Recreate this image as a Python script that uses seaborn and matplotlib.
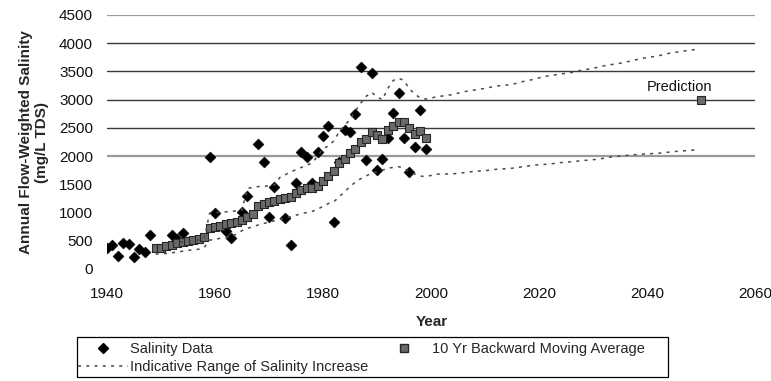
import matplotlib
matplotlib.use("Agg")
import matplotlib.pyplot as plt
import seaborn as sns
import pandas as pd
from matplotlib.lines import Line2D
from matplotlib.patches import Rectangle

# ---------------- data ----------------
data_years = [1940, 1941, 1942, 1943, 1944, 1945, 1946, 1947, 1948, 1952, 1953, 1954,
              1959, 1960, 1962, 1963, 1965, 1966, 1968, 1969, 1970, 1971, 1973, 1974,
              1975, 1976, 1977, 1978, 1979, 1980, 1981, 1982, 1983, 1984, 1985, 1986,
              1987, 1988, 1989, 1990, 1991, 1992, 1993, 1994, 1995, 1996, 1997, 1998, 1999]
data_vals = [375, 430, 225, 460, 445, 220, 350, 295, 610, 600, 540, 640,
             1980, 990, 680, 555, 1005, 1290, 2210, 1890, 920, 1450, 900, 425,
             1525, 2070, 1990, 1530, 2080, 2360, 2530, 830, 1900, 2460, 2430, 2740,
             3580, 1930, 3470, 1760, 1950, 2315, 2770, 3110, 2315, 1725, 2165, 2815, 2125]

ma_years = list(range(1949, 2000))
ma_vals = [380, 370, 400, 430, 455, 475, 495, 515, 530, 560,
           720, 750, 770, 790, 810, 840, 870, 930, 980, 1120,
           1150, 1180, 1200, 1240, 1260, 1280, 1340, 1400, 1430, 1440,
           1470, 1560, 1650, 1740, 1880, 1950, 2050, 2130, 2250, 2300,
           2430, 2370, 2300, 2460, 2530, 2600, 2600, 2500, 2400, 2440, 2320]

upper_years = [1952, 1954, 1956, 1958, 1959, 1961, 1963, 1965, 1966, 1968, 1970, 1971,
               1972, 1974, 1976, 1978, 1979, 1980, 1981, 1982, 1983, 1984, 1985, 1986,
               1987, 1988, 1989, 1990, 1991, 1992, 1993, 1994, 1995, 1996, 1997, 1998,
               1999, 2001, 2004, 2006, 2008, 2010, 2012, 2015, 2017, 2019, 2021, 2024,
               2026, 2028, 2030, 2032, 2035, 2037, 2039, 2042, 2044, 2046, 2049]
upper_vals = [460, 480, 500, 530, 990, 1005, 1020, 1040, 1430, 1460, 1470, 1490,
              1620, 1720, 1800, 1880, 2000, 2130, 2180, 2270, 2430, 2540, 2650, 2800,
              2940, 3060, 3130, 3050, 3000, 3200, 3340, 3380, 3340, 3190, 3100, 3030,
              3010, 3050, 3090, 3140, 3170, 3200, 3240, 3270, 3320, 3360, 3410, 3455,
              3480, 3525, 3555, 3600, 3645, 3685, 3730, 3775, 3820, 3850, 3890]

lower_years = [1949, 1951, 1953, 1955, 1957, 1958, 1959, 1960, 1962, 1963, 1964, 1965,
               1966, 1967, 1968, 1970, 1971, 1972, 1974, 1976, 1977, 1978, 1979, 1980,
               1981, 1982, 1983, 1984, 1985, 1986, 1987, 1988, 1989, 1990, 1991, 1992,
               1993, 1994, 1995, 1996, 1997, 1998, 1999, 2001, 2004, 2006, 2008, 2010,
               2012, 2015, 2017, 2019, 2022, 2024, 2026, 2028, 2031, 2033, 2035, 2037,
               2040, 2042, 2045, 2047, 2049]
lower_vals = [265, 275, 300, 330, 350, 380, 510, 530, 555, 575, 620, 680,
              720, 750, 780, 830, 856, 880, 925, 980, 1000, 1020, 1060, 1110,
              1160, 1190, 1280, 1370, 1460, 1540, 1600, 1650, 1695, 1720, 1750, 1785,
              1800, 1812, 1785, 1725, 1680, 1648, 1635, 1680, 1685, 1705, 1730, 1742,
              1765, 1785, 1812, 1840, 1860, 1885, 1900, 1920, 1945, 1980, 2000, 2020,
              2040, 2050, 2080, 2095, 2110]

pred_year = [2050]
pred_val = [3000]

x_ticks = [1940, 1960, 1980, 2000, 2020, 2040, 2060]
y_ticks = [0, 500, 1000, 1500, 2000, 2500, 3000, 3500, 4000, 4500]
gridline_vals = [2000, 2500, 3000, 3500, 4000, 4500]

legend_labels = ["Salinity Data", "Indicative Range of Salinity Increase",
                 "10 Yr Backward Moving Average"]

# ---------------- styling ----------------
sns.set_theme(style="white")
plt.rcParams["font.family"] = ["Liberation Sans", "DejaVu Sans"]

W, H = 771, 381
fig = plt.figure(figsize=(W / 100, H / 100), dpi=100)
ax = fig.add_axes([107 / W, 1 - 269 / H, 648 / W, 254 / H])

# gridlines (only the upper ones are visible in the reference)
for v in gridline_vals:
    light = v in (2000, 4500)
    ax.axhline(v, color="#9a9a9a" if light else "#3a3a3a",
               lw=1.6 if light else 1.0, zorder=0)

diamond_df = pd.DataFrame({"year": data_years, "val": data_vals})
ma_df = pd.DataFrame({"year": ma_years, "val": ma_vals})
pred_df = pd.DataFrame({"year": pred_year, "val": pred_val})
up_df = pd.DataFrame({"year": upper_years, "val": upper_vals})
lo_df = pd.DataFrame({"year": lower_years, "val": lower_vals})

sq_face = "#6a6a6a"
sq_edge = "#262626"
dash_color = "#4a4a4a"
dash_style = (0, (2.0, 3.4))

sns.scatterplot(data=diamond_df, x="year", y="val", marker="D", s=32,
                color="black", edgecolor="black", linewidth=0.3, ax=ax, zorder=3)
sns.scatterplot(data=ma_df, x="year", y="val", marker="s", s=34,
                color=sq_face, edgecolor=sq_edge, linewidth=0.8, ax=ax, zorder=4)
sns.scatterplot(data=pred_df, x="year", y="val", marker="s", s=34,
                color=sq_face, edgecolor=sq_edge, linewidth=0.8, ax=ax, zorder=4)
sns.lineplot(data=up_df, x="year", y="val", color=dash_color, lw=1.1,
             linestyle=dash_style, sort=False, estimator=None, ax=ax, zorder=5)
sns.lineplot(data=lo_df, x="year", y="val", color=dash_color, lw=1.1,
             linestyle=dash_style, sort=False, estimator=None, ax=ax, zorder=5)

ax.text(2046, 3230, "Prediction", ha="center", va="center", fontsize=10.5,
        color="#111111")

ax.set_xlim(1940, 2060)
ax.set_ylim(0, 4500)
ax.set_xticks(x_ticks)
ax.set_yticks(y_ticks)
ax.tick_params(axis="y", length=0, pad=10, labelsize=11, labelcolor="#111111")
ax.tick_params(axis="x", length=0, pad=13, labelsize=11, labelcolor="#111111")
ax.set_xlabel("")
ax.set_ylabel("")
for s in ax.spines.values():
    s.set_visible(False)
ax.set_facecolor("white")

# axis titles
fig.text(432 / W, 1 - 326 / H, "Year", ha="center", va="baseline",
         fontsize=11, fontweight="bold")
fig.text(34 / W, 1 - 142 / H, "Annual Flow-Weighted Salinity\n(mg/L TDS)",
         rotation=90, ha="center", va="center", multialignment="center",
         linespacing=1.1, fontsize=11, fontweight="bold")

# legend
h_diamond = Line2D([], [], marker="D", color="black", linestyle="none", markersize=5.4)
h_dash = Line2D([], [], color=dash_color, lw=1.1, linestyle=dash_style)
h_sq = Line2D([], [], marker="s", markerfacecolor=sq_face, markeredgecolor=sq_edge,
              linestyle="none", markersize=6)
leg = fig.legend([h_diamond, h_dash, h_sq], legend_labels, ncol=2,
                 loc="upper left", bbox_to_anchor=(78 / W, 1 - 342 / H),
                 frameon=False, fontsize=10.5, handlelength=3.4,
                 handletextpad=0.2, columnspacing=0.75, borderpad=0,
                 labelspacing=0.28, borderaxespad=0)
fig.add_artist(Rectangle((77 / W, 1 - 377 / H), 591 / W, 40 / H,
                         transform=fig.transFigure, fill=False,
                         edgecolor="black", lw=0.9))

fig.savefig("out.png", dpi=100, facecolor="white")
